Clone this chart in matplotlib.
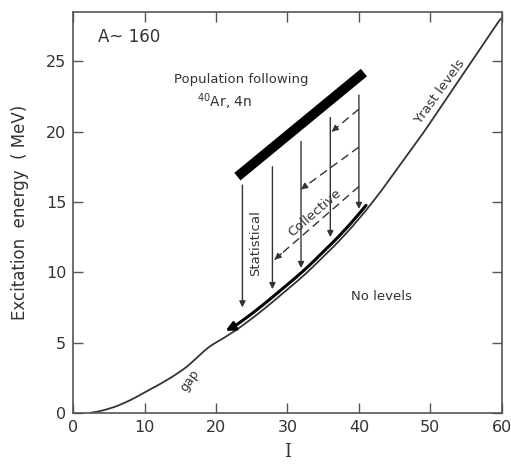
import matplotlib
matplotlib.use("Agg")
import matplotlib.pyplot as plt
import numpy as np

# Yrast line (spin I, excitation energy in MeV)
spin = [2.5, 4, 6, 8, 10, 12, 14, 16, 18, 19, 20, 21, 23, 25, 27, 29, 31, 33,
        35, 37, 39, 41, 43, 45, 47, 49, 51, 53, 55, 57, 59, 60]
energia = [0, 0.15, 0.45, 0.9, 1.45, 2.0, 2.6, 3.3, 4.25, 4.7, 5.0, 5.3, 5.95,
           6.7, 7.5, 8.35, 9.2, 10.1, 11.1, 12.1, 13.2, 14.4, 15.7, 17.1, 18.5,
           19.9, 21.4, 22.9, 24.4, 25.9, 27.4, 28.2]

# Entry region populated by 40Ar,4n (ends of the thick bar)
barra_spin = [23.0, 40.7]
barra_energia = [16.8, 24.2]

# Statistical (vertical) transitions: spin, start energy, end energy
stat_spin = [23.7, 27.9, 31.9, 36.0, 40.0]
stat_inicio = [16.2, 17.5, 19.3, 21.0, 22.6]
stat_fin = [7.5, 8.8, 10.3, 12.5, 14.5]

# Collective (dashed) transitions: (spin, energy) start -> end
col_spin_ini = [40.0, 40.0, 40.0]
col_e_ini = [21.6, 18.9, 16.1]
col_spin_fin = [36.2, 31.9, 28.2]
col_e_fin = [20.0, 15.9, 10.9]

# Collective cascade along the yrast line
banda_spin = [21.0, 41.0]

gris = "#333333"

fig = plt.figure(figsize=(5.11, 4.65), dpi=100)
ax = fig.add_axes([0.143, 0.112, 0.839, 0.862])

# curva suave a traves de los puntos
xs = np.linspace(spin[0], spin[-1], 400)
ys = np.interp(xs, spin, energia)
k = np.ones(9) / 9
ys_s = np.convolve(np.pad(ys, 4, mode="edge"), k, mode="valid")
ax.plot(xs, ys_s, color=gris, lw=1.3)

# banda colectiva paralela a la linea yrast
bs = np.linspace(banda_spin[0] + 1.5, banda_spin[1], 80)
be = np.interp(bs, xs, ys_s) + 0.35
ax.plot(bs, be, color="k", lw=2.2, solid_capstyle="round")
ax.annotate("", xy=(banda_spin[0], np.interp(banda_spin[0], xs, ys_s) + 0.45),
            xytext=(bs[0], be[0]),
            arrowprops=dict(arrowstyle="-|>", color="k", lw=2, mutation_scale=14))

# barra de poblacion
ax.plot(barra_spin, barra_energia, color="k", lw=7, solid_capstyle="butt")

# transiciones estadisticas
for s, e0, e1 in zip(stat_spin, stat_inicio, stat_fin):
    ax.annotate("", xy=(s, e1), xytext=(s, e0),
                arrowprops=dict(arrowstyle="-|>", color=gris, lw=1.0,
                                mutation_scale=9, shrinkA=0, shrinkB=0))

# transiciones colectivas (discontinuas)
for s0, e0, s1, e1 in zip(col_spin_ini, col_e_ini, col_spin_fin, col_e_fin):
    ax.plot([s0, s1], [e0, e1], color=gris, lw=1.0, ls=(0, (6, 3.5)))
    ds, de = (s1 - s0) * 0.08, (e1 - e0) * 0.08
    ax.annotate("", xy=(s1, e1), xytext=(s1 - ds, e1 - de),
                arrowprops=dict(arrowstyle="-|>", color=gris, lw=1.0,
                                mutation_scale=9, shrinkA=0, shrinkB=0))

# textos
ax.text(3.5, 26.7, "A~ 160", fontsize=12, color=gris, va="center", ha="left")
ax.text(23.5, 23.7, "Population following", fontsize=9.5, color=gris,
        ha="center", va="center")
ax.text(21.2, 22.1, "$^{40}$Ar, 4n", fontsize=10, color=gris,
        ha="center", va="center")
ax.text(25.6, 12.1, "Statistical", fontsize=9.5, color=gris, rotation=90,
        ha="center", va="center")
ax.text(33.8, 14.2, "Collective", fontsize=9.5, color=gris, rotation=41,
        ha="center", va="center")
ax.text(43.2, 8.3, "No levels", fontsize=9.5, color=gris, ha="center", va="center")
ax.text(51.3, 22.8, "Yrast levels", fontsize=9.5, color=gris, rotation=54,
        ha="center", va="center")
ax.text(16.3, 2.3, "gap", fontsize=9, color=gris, rotation=55,
        ha="center", va="center")

ax.set_xlim(0, 60)
ax.set_ylim(0, 28.5)
ax.set_xticks([0, 10, 20, 30, 40, 50, 60])
ax.set_yticks([0, 5, 10, 15, 20, 25])
ax.tick_params(direction="in", length=7, width=1, color="#555555",
               labelcolor=gris, labelsize=11.5, top=True, right=True, pad=5)
for sp in ax.spines.values():
    sp.set_color("#555555")
    sp.set_linewidth(1.2)

ax.set_ylabel("Excitation  energy  ( MeV)", fontsize=12, color=gris, labelpad=12)
ax.set_xlabel("I", fontsize=13, color=gris, family="DejaVu Serif", labelpad=6)

fig.savefig("out.png", dpi=100)
plt.close(fig)
